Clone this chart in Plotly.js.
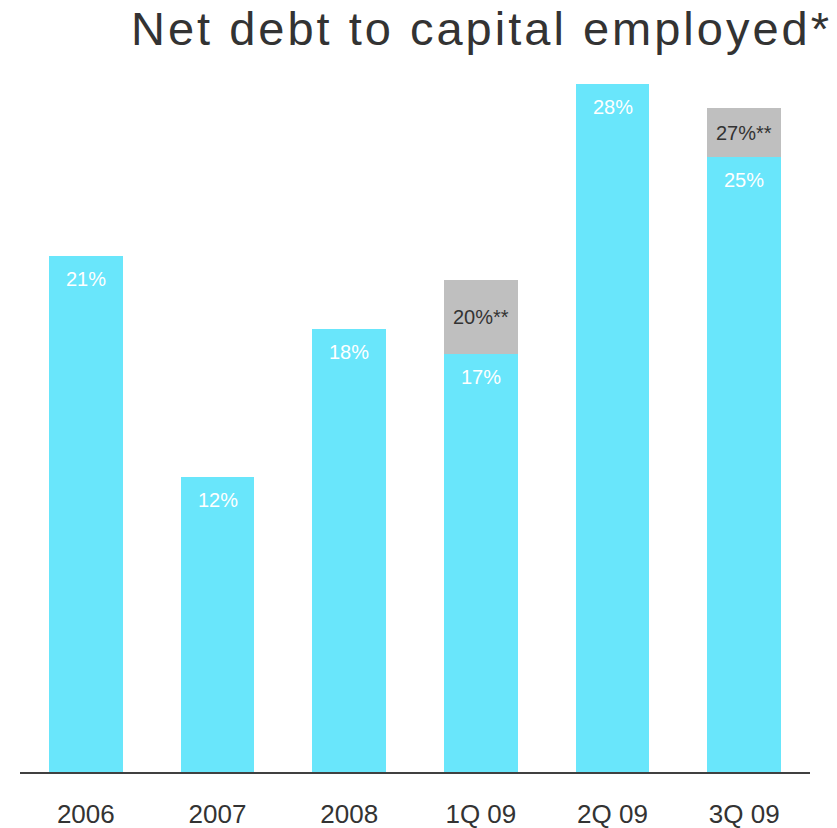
<!DOCTYPE html>
<html>
<head>
<meta charset="utf-8">
<script src="https://cdn.plot.ly/plotly-3.0.1.min.js"></script>
<style>
  html, body { margin: 0; padding: 0; background: #fff; }
  #chart { width: 837px; height: 828px; }
  #chart .gtitle { letter-spacing: 3px; }
</style>
</head>
<body>
<div id="chart"></div>
<script>
// Net debt to capital employed, by period (%)
const periods = ['2006', '2007', '2008', '1Q 09', '2Q 09', '3Q 09'];
const netDebtRatio = [21, 12, 18, 17, 28, 25];
// Alternative ratio shown for two quarters (stacked on top)
const altRatio = [null, null, null, 20, null, 27];

const cyan = '#69E6FB';
const grey = '#BFBFBF';
const sans = '"Liberation Sans", Arial, sans-serif';

const altIncrement = altRatio.map((v, i) => (v == null ? 0 : v - netDebtRatio[i]));

const traces = [
  {
    type: 'bar',
    x: periods,
    y: netDebtRatio,
    marker: { color: cyan },
    hoverinfo: 'skip'
  },
  {
    type: 'bar',
    x: periods,
    y: altIncrement,
    marker: { color: grey },
    hoverinfo: 'skip'
  }
];

// Value labels: category positions are given by index on the category axis
const annotations = [];
periods.forEach((p, i) => {
  annotations.push({
    x: i, y: netDebtRatio[i], xref: 'x', yref: 'y',
    text: netDebtRatio[i] + '%',
    showarrow: false, yanchor: 'middle', yshift: -23,
    font: { family: sans, size: 20, color: '#ffffff' }
  });
  if (altRatio[i] != null) {
    annotations.push({
      x: i, y: (altRatio[i] + netDebtRatio[i]) / 2, xref: 'x', yref: 'y',
      text: altRatio[i] + '%**',
      showarrow: false, yanchor: 'middle',
      font: { family: sans, size: 20, color: '#333333' }
    });
  }
});

const layout = {
  width: 837,
  height: 828,
  margin: { l: 20, r: 27, t: 59, b: 56 },
  paper_bgcolor: '#ffffff',
  plot_bgcolor: '#ffffff',
  barmode: 'stack',
  bargap: 0.44,
  showlegend: false,
  title: {
    text: 'Net debt to capital employed*',
    font: { family: sans, size: 47, color: '#333333' },
    xref: 'container', x: 0.994, xanchor: 'right',
    yref: 'container', y: 0.985, yanchor: 'top'
  },
  xaxis: {
    type: 'category',
    range: [-0.5, 5.5],
    showline: true, linecolor: '#404040', linewidth: 2,
    ticks: '', showgrid: false, zeroline: false,
    ticklabelstandoff: 18,
    tickfont: { family: sans, size: 26, color: '#333333' },
    fixedrange: true
  },
  yaxis: {
    range: [0, 29],
    visible: false, showgrid: false, zeroline: false,
    fixedrange: true
  },
  annotations: annotations
};

Plotly.newPlot('chart', traces, layout, { displayModeBar: false, staticPlot: true });
</script>
</body>
</html>
